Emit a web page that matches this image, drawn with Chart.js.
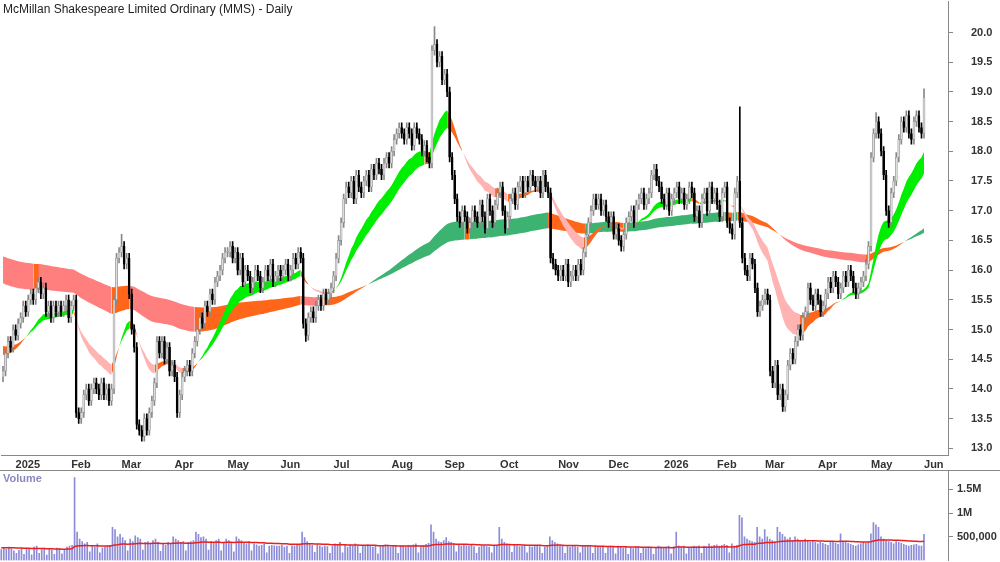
<!DOCTYPE html>
<html><head><meta charset="utf-8">
<script src="https://cdn.jsdelivr.net/npm/chart.js@4/dist/chart.umd.min.js"></script>
<style>
body{margin:0;background:#fff;width:1000px;height:562px;overflow:hidden;font-family:"Liberation Sans",Arial,sans-serif}
#p{position:absolute;left:0;top:-23px;width:1000px;height:503px}
#v{position:absolute;left:0;top:461px;width:1000px;height:110px}
#sep{position:absolute;left:0;top:470px;width:1000px;height:1px;background:#888}
#title{position:absolute;left:3px;top:2px;font-size:12px;color:#222}
#vol{position:absolute;left:3px;top:472px;font-size:11px;color:#8a8ac0;font-weight:bold}
</style></head><body>
<div id="p"><canvas id="pc"></canvas></div>
<div id="v"><canvas id="vc"></canvas></div>
<div id="sep"></div>
<div id="title">McMillan Shakespeare Limited Ordinary (MMS) - Daily</div>
<div id="vol">Volume</div>
<script>
const monthLabels=["Dec","2025","Feb","Mar","Apr","May","Jun","Jul","Aug","Sep","Oct","Nov","Dec","2026","Feb","Mar","Apr","May","Jun"];
const closes=[
[14.3,14.6,14.8,14.7,15.0],
[14.9,15.1,15.2,15.4,15.3,15.5,15.6,15.5,15.7,15.8,15.6,15.7,15.3,15.4,15.2,15.4,15.3,15.4,15.3,15.4,15.5,15.2],
[15.4,15.5,13.6,13.5,13.6,13.9,14.0,13.8,14.0,14.1,14.0,13.9,14.1,13.9,14.0,13.8,14.0,15.5,16.2,16.3],
[16.4,16.1,16.2,15.6,15.0,14.7,13.4,13.3,13.2,13.5,13.3,13.6,13.8,14.1,14.8,14.6,14.8,14.5,14.7,14.3,14.4],
[14.2,13.6,13.9,14.2,14.3,14.4,14.3,14.6,14.8,15.0,15.2,15.1,15.4,15.3,15.6,15.5,15.8,15.9,16.0,16.2,16.3],
[16.3,16.4,16.2,16.3,16.0,16.2,15.8,16.0,15.9,15.7,15.8,16.0,15.9,15.7,15.8,16.0,15.9,16.1,15.8,15.9,16.0],
[15.9,16.0,16.1,15.9,16.0,16.2,16.1,16.3,16.2,15.1,14.9,15.2,15.3,15.2,15.4,15.5,15.4,15.6,15.5,15.6,15.7],
[15.9,16.2,16.5,16.8,17.2,17.4,17.3,17.5,17.2,17.6,17.4,17.3,17.5,17.6,17.4,17.7,17.6,17.8,17.7,17.6,17.8,17.9,17.8],
[18.0,18.2,18.3,18.4,18.3,18.2,18.4,18.3,18.1,18.4,18.3,18.2,18.0,18.1,17.9,17.8,19.7,19.8,19.5,19.6,19.2],
[19.3,19.0,17.9,17.6,17.2,16.9,16.8,17.0,16.9,16.7,16.8,17.0,16.9,16.8,17.1,16.9,16.7,17.2,17.0,16.8,17.1,17.3],
[17.4,17.0,16.7,16.9,17.2,17.3,17.1,17.4,17.5,17.3,17.5,17.4,17.6,17.5,17.4,17.5,17.3,17.6,17.4,17.3,16.2,16.1,16.0],
[15.9,16.0,15.9,16.1,15.8,15.9,16.0,15.9,16.1,16.0,16.3,16.6,16.8,17.0,17.2,17.1,17.2,17.0,17.1,16.9],
[16.8,16.9,16.6,16.7,16.5,16.4,16.6,16.8,16.9,17.0,16.8,17.1,17.2,17.3,17.1,17.2,17.3,17.6,17.7,17.5,17.4,17.2],
[17.1,17.3,17.0,17.2,17.3,17.4,17.2,17.3,17.1,17.2,17.4,17.3,16.9,17.0,16.8,17.2,17.3,17.0,17.4,17.2,17.3],
[17.1,16.9,17.3,17.4,16.8,16.7,16.6,17.3,17.5,16.8,16.2,16.0,15.9,16.2,16.1,15.7,15.3,15.4,15.5],
[15.6,15.5,14.3,14.1,14.4,13.9,14.0,13.7,13.9,14.4,14.6,14.5,14.8,15.0,14.9,15.2,15.3,15.7,15.5,15.4,15.6],
[15.5,15.3,15.4,15.6,15.8,15.7,15.9,15.8,15.6,15.7,15.9,15.8,16.0,15.9,15.7,15.6,15.7,15.8,15.9,16.1,16.4],
[17.9,18.3,18.5,18.3,18.0,17.6,17.0,16.8,17.3,17.5,17.9,18.2,18.5,18.4,18.6,18.3,18.2,18.5,18.6,18.4,18.3],
[18.9]];
// notable wick extremes: [monthIndex, barInMonth, high or null, low or null]
const extremes=[[3,0,16.6,null],[6,10,null,14.8],[8,17,20.1,null],[14,9,18.75,null],[17,2,18.65,null],[18,0,19.05,null]];
// volumes in thousands, same month layout
const volumes=[
[230,260,240,280,250],
[200,150,210,250,130,260,240,120,280,300,150,230,260,110,240,220,130,260,250,140,230,280],
[300,320,1750,600,450,400,350,380,180,300,280,350,160,260,280,300,320,700,650,500],
[550,480,420,200,450,400,520,480,450,220,380,400,350,420,450,380,190,350,320,380,340],
[500,450,420,380,400,200,380,400,420,600,550,480,500,450,220,400,380,420,450,200,380],
[450,420,380,180,500,450,420,380,350,400,200,350,330,300,320,350,160,300,320,310,300],
[300,320,280,300,150,310,300,330,320,600,480,400,350,320,170,330,310,280,300,290,150],
[300,350,320,380,160,320,280,330,300,350,310,150,300,320,330,300,280,310,140,290,320,330,310],
[280,300,320,150,310,300,280,320,300,330,350,160,300,320,340,360,750,600,450,400,380],
[420,480,400,380,350,180,320,300,340,310,300,320,290,150,280,310,300,290,280,160,310,320],
[700,450,380,350,330,170,320,310,290,300,320,160,290,280,300,310,290,150,280,290,500,420,380],
[350,320,300,150,290,280,300,290,280,160,320,310,300,290,150,300,290,280,300,150],
[280,300,290,140,300,280,260,290,130,270,250,280,290,150,260,250,280,270,130,260,300,280],
[260,280,300,140,290,600,310,280,300,140,270,280,300,290,310,150,300,290,350,300,320],
[330,300,320,340,320,160,350,300,320,950,900,500,450,420,400,380,700,500,450],
[650,500,450,420,400,700,600,550,500,450,480,420,500,450,420,400,450,420,380,400,380],
[350,380,360,340,320,400,380,360,340,560,400,380,360,340,320,300,330,350,380,360,400],
[560,800,750,700,500,450,420,400,380,350,400,380,360,340,320,300,320,330,340,310,300],
[550]];
const padBars=9;
const seedShort=[14.6,14.75], seedLong=[15.8,16.25], seedVol=270;
const periods={sf:20,ss:30,lf:130,ls:200,vol:60};

const labels=[],tickText=[],C=[],V=[],start=[];
closes.forEach((m,mi)=>{start.push(C.length);m.forEach((c,i)=>{labels.push(monthLabels[mi]+" "+(i+1));tickText.push(i===0&&mi>0?monthLabels[mi]:"");C.push(c);V.push(volumes[mi][i]*1000);});});
const N=C.length;
for(let k=0;k<padBars;k++){labels.push("pad"+k);tickText.push("");}
const O=C.map((c,i)=>i===0?c-0.1:C[i-1]);
const H=C.map((c,i)=>Math.max(c,O[i])+0.08), L=C.map((c,i)=>Math.min(c,O[i])-0.08);
extremes.forEach(([m,d,h,l])=>{const i=start[m]+d;if(h!==null)H[i]=h;if(l!==null)L[i]=l;});
function ema(arr,p,seed){const a=2/(p+1);let e=seed;return arr.map(v=>(e=e+a*(v-e)));}
const sf=ema(C,periods.sf,seedShort[0]), ss=ema(C,periods.ss,seedShort[1]);
const lf=ema(C,periods.lf,seedLong[0]), ls=ema(C,periods.ls,seedLong[1]);
const vma=ema(V,periods.vol,seedVol*1000);
function colorsOf(f,s){return f.map((v,i)=>{const up=i===0?true:v>=f[i-1];if(v>=s[i]&&up)return 0;if(v<s[i]&&!up)return 1;return 2;});}
function ribbon(f,s,cols,order){
  const cl=colorsOf(f,s),ds=[];
  cols.forEach((col,k)=>{
    const inc=i=>cl[i]===k||(i+1<N&&cl[i+1]===k);
    ds.push({type:'line',data:f.map((v,i)=>inc(i)?v:null),borderWidth:0,pointRadius:0,fill:false,order,spanGaps:false});
    ds.push({type:'line',data:s.map((v,i)=>inc(i)?v:null),borderWidth:0,pointRadius:0,fill:'-1',backgroundColor:col,order,spanGaps:false});
  });
  return ds;
}
const datasets=[
 ...ribbon(lf,ls,['#3cb371','#ff7f7f','#ff661a'],20),
 ...ribbon(sf,ss,['#00ee00','#ffb3b3','#ff661a'],10),
 {type:'bar',data:C.map((c,i)=>[L[i],H[i]]),backgroundColor:C.map((c,i)=>c>=O[i]?'#888':'#000'),barThickness:1,grouped:false,order:2},
 {type:'bar',data:C.map((c,i)=>[O[i],c]),backgroundColor:C.map((c,i)=>c>=O[i]?'#ddd':'#000'),borderColor:C.map((c,i)=>c>=O[i]?'#888':'#000'),borderWidth:0.6,borderSkipped:false,barThickness:2,grouped:false,order:1,minBarLength:1}
];
const tickFont={family:'"Liberation Sans",Arial',size:11,weight:'bold'};
new Chart(document.getElementById('pc'),{type:'bar',data:{labels,datasets},
 options:{responsive:true,maintainAspectRatio:false,animation:false,layout:{padding:0},
  plugins:{legend:{display:false},tooltip:{enabled:false}},
  scales:{
   x:{offset:true,grid:{display:false,drawTicks:false},border:{display:true,color:'#888'},
      afterFit:s=>{s.height=15},
      ticks:{autoSkip:false,maxRotation:0,align:'start',padding:3,color:'#333',font:tickFont,callback:(v,i)=>tickText[i]}},
   y:{position:'right',min:12.88,max:20.52,afterFit:s=>{s.width=52},
      afterBuildTicks:s=>{const t=[];for(let v=13;v<=20.001;v+=0.5)t.push({value:+v.toFixed(1)});s.ticks=t;},
      grid:{drawOnChartArea:false,tickLength:5,color:'#888'},border:{display:true,color:'#888'},
      ticks:{padding:18,color:'#333',font:tickFont,callback:v=>v.toFixed(1)}}
  }}});
new Chart(document.getElementById('vc'),{type:'bar',data:{labels,datasets:[
  {type:'line',data:vma,borderColor:'#e82020',borderWidth:1.5,pointRadius:0,order:1},
  {type:'bar',data:V,backgroundColor:'#8c8cd8',barThickness:1,order:2}]},
 options:{responsive:true,maintainAspectRatio:false,animation:false,layout:{padding:{bottom:1}},
  plugins:{legend:{display:false},tooltip:{enabled:false}},
  scales:{x:{display:false,offset:true},
   y:{position:'right',min:0,max:1875000,afterFit:s=>{s.width=52},
      afterBuildTicks:s=>{s.ticks=[{value:500000},{value:1000000},{value:1500000}]},
      grid:{drawOnChartArea:false,tickLength:5,color:'#888'},border:{display:true,color:'#888'},
      ticks:{padding:4,color:'#333',font:tickFont,callback:v=>v===500000?'500,000':(v/1e6)+'M'}}}}});
</script></body></html>
